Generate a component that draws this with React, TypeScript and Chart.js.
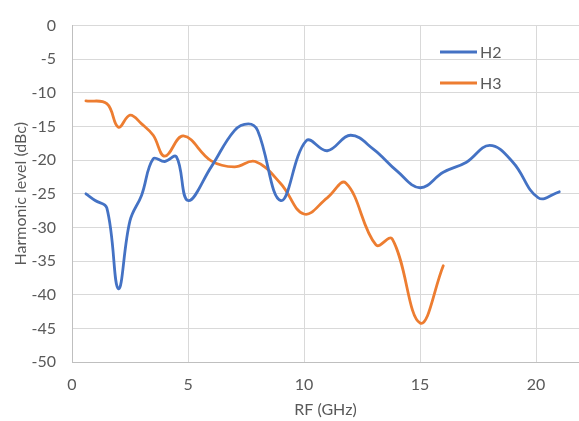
import React, { useEffect, useRef } from "react";
import { Chart, registerables } from "chart.js";

Chart.register(...registerables);

const seriesNames = ["H2", "H3"];
const seriesColors = ["#4472C4", "#ED7D31"];

const h2Freq = [0.6, 1.0, 1.5, 2.0, 2.5, 3.0, 3.5, 4.0, 4.5, 5.0, 6.0, 7.0, 7.6, 8.0, 9.0, 10.1, 11.0, 12.0, 13.0, 14.0, 15.0, 16.0, 17.0, 18.0, 19.0, 20.1, 21.0];
const h2Level = [-25.0, -26.0, -27.1, -39.1, -29.0, -25.2, -19.8, -20.2, -19.5, -26.0, -21.0, -15.6, -14.6, -15.6, -26.0, -17.1, -18.6, -16.3, -18.4, -21.6, -24.1, -21.8, -20.3, -17.8, -20.3, -25.6, -24.7];

const h3Freq = [0.6, 1.5, 2.0, 2.5, 3.0, 3.5, 4.0, 4.8, 6.0, 7.0, 7.9, 9.0, 10.0, 11.0, 11.8, 13.1, 13.8, 15.0, 16.0];
const h3Level = [-11.2, -11.6, -15.1, -13.3, -14.6, -16.3, -19.4, -16.4, -20.1, -21.0, -20.2, -23.5, -28.0, -25.6, -23.4, -32.6, -31.7, -44.2, -35.7];

const xTicks = [0, 5, 10, 15, 20];
const yTicks = [0, -5, -10, -15, -20, -25, -30, -35, -40, -45, -50];

const FONT = "Lato";
const TEXT = "#595959";
const SIZE = 16;

const legendPlugin = {
  id: "insideLegend",
  afterDraw(chart: any) {
    const ctx = chart.ctx;
    chart.data.datasets.forEach((ds: any, i: number) => {
      const y = 52 + i * 31;
      ctx.save();
      ctx.strokeStyle = ds.borderColor;
      ctx.lineWidth = 3;
      ctx.beginPath();
      ctx.moveTo(440, y);
      ctx.lineTo(477, y);
      ctx.stroke();
      ctx.fillStyle = TEXT;
      ctx.font = `${SIZE}px ${FONT}`;
      ctx.textBaseline = "middle";
      ctx.textAlign = "left";
      ctx.fillText(ds.label, 480, y + 1);
      ctx.restore();
    });
  },
};

export default function App() {
  const ref = useRef<HTMLCanvasElement | null>(null);

  useEffect(() => {
    if (!ref.current) return;
    const datasets = [
      { label: seriesNames[0], data: h2Freq.map((x, i) => ({ x, y: h2Level[i] })), borderColor: seriesColors[0] },
      { label: seriesNames[1], data: h3Freq.map((x, i) => ({ x, y: h3Level[i] })), borderColor: seriesColors[1] },
    ].map((d) => ({
      ...d,
      backgroundColor: d.borderColor,
      showLine: true,
      pointRadius: 0,
      borderWidth: 2.8,
      tension: 0.4,
      borderCapStyle: "round" as const,
    }));

    const chart = new Chart(ref.current, {
      type: "scatter",
      data: { datasets },
      options: {
        animation: false,
        responsive: false,
        maintainAspectRatio: false,
        layout: { padding: { top: 16, right: 0, left: 0, bottom: 0 } },
        plugins: { legend: { display: false }, tooltip: { enabled: false } },
        scales: {
          x: {
            type: "linear",
            min: 0,
            max: 21.85,
            afterBuildTicks: (s: any) => {
              s.ticks = xTicks.map((v) => ({ value: v }));
            },
            afterFit: (s: any) => {
              s.height = 59;
            },
            grid: { color: "#d9d9d9", lineWidth: 1, drawTicks: false },
            border: { color: "#bfbfbf", width: 1 },
            ticks: { padding: 13, color: TEXT, font: { family: FONT, size: SIZE } },
            title: {
              display: true,
              text: "RF (GHz)",
              color: TEXT,
              font: { family: FONT, size: SIZE },
              padding: { top: 0, bottom: 2 },
            },
          },
          y: {
            type: "linear",
            min: -50,
            max: 0,
            afterBuildTicks: (s: any) => {
              s.ticks = yTicks.map((v) => ({ value: v }));
            },
            afterFit: (s: any) => {
              s.width = 72;
            },
            grid: { color: "#d9d9d9", lineWidth: 1, drawTicks: false },
            border: { color: "#bfbfbf", width: 1 },
            ticks: { padding: 16, color: TEXT, font: { family: FONT, size: SIZE } },
            title: {
              display: true,
              text: "Harmonic level (dBc)",
              color: TEXT,
              font: { family: FONT, size: SIZE },
              padding: { top: 11, bottom: 0 },
            },
          },
        },
      },
      plugins: [legendPlugin],
    });
    return () => chart.destroy();
  }, []);

  return (
    <div style={{ position: "absolute", left: 0, top: 0, width: 579, height: 421 }}>
      <canvas ref={ref} width={579} height={421} />
    </div>
  );
}
